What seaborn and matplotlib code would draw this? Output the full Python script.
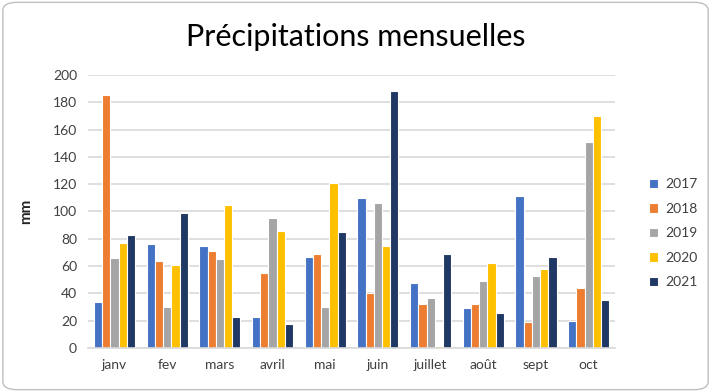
import pandas as pd
import matplotlib
matplotlib.use("Agg")
import matplotlib.pyplot as plt
from matplotlib.patches import FancyBboxPatch
import seaborn as sns

months = ["janv", "fev", "mars", "avril", "mai", "juin", "juillet", "août", "sept", "oct"]
years = ["2017", "2018", "2019", "2020", "2021"]
p2017 = [34, 76, 75, 23, 67, 110, 48, 29, 111, 20]
p2018 = [185, 64, 71, 55, 69, 40, 32, 32, 19, 44]
p2019 = [66, 30, 65, 95, 30, 106, 37, 49, 53, 151]
p2020 = [77, 61, 105, 86, 121, 75, 1.5, 62, 58, 170]
p2021 = [83, 99, 23, 18, 85, 188, 69, 26, 67, 35]
colors = ["#4472C4", "#ED7D31", "#A5A5A5", "#FFC000", "#203864"]

rows = []
for year, vals in zip(years, [p2017, p2018, p2019, p2020, p2021]):
    for m, v in zip(months, vals):
        rows.append({"mois": m, "annee": year, "mm": v})
df = pd.DataFrame(rows)

sns.set_theme(style="white")
plt.rcParams["font.family"] = ["Lato", "DejaVu Sans"]

fig = plt.figure(figsize=(7.11, 3.92), dpi=100)
ax = fig.add_axes([0.124, 0.112, 0.741, 0.697])

sns.barplot(data=df, x="mois", y="mm", hue="annee", order=months, hue_order=years,
            palette=colors, saturation=1, width=0.78, edgecolor="white",
            linewidth=0.8, ax=ax)

ax.set_ylim(0, 200)
ax.set_yticks(range(0, 201, 20))
ax.yaxis.grid(True, color="#D9D9D9", linewidth=1.2)
ax.set_axisbelow(True)
for s in ["top", "right", "left"]:
    ax.spines[s].set_visible(False)
ax.spines["bottom"].set_color("#D9D9D9")
ax.spines["bottom"].set_linewidth(1.2)
ax.tick_params(axis="both", length=0, labelsize=10, labelcolor="#404040", pad=8)
ax.set_xlabel("")
ax.set_ylabel("mm", fontsize=11, fontweight="bold", labelpad=14)

ax.legend(loc="center left", bbox_to_anchor=(1.04, 0.42), frameon=False,
          fontsize=10, handlelength=0.7, handleheight=0.7, labelspacing=0.9,
          handletextpad=0.5, labelcolor="#404040")

fig.text(0.5, 0.905, "Précipitations mensuelles", ha="center", va="center",
         fontsize=22, color="black")

fig.patches.append(FancyBboxPatch((0.004, 0.006), 0.992, 0.988,
                                  boxstyle="round,pad=0,rounding_size=0.02",
                                  transform=fig.transFigure, fill=False,
                                  edgecolor="#BFBFBF", linewidth=1))

fig.savefig("out.png", dpi=100)
